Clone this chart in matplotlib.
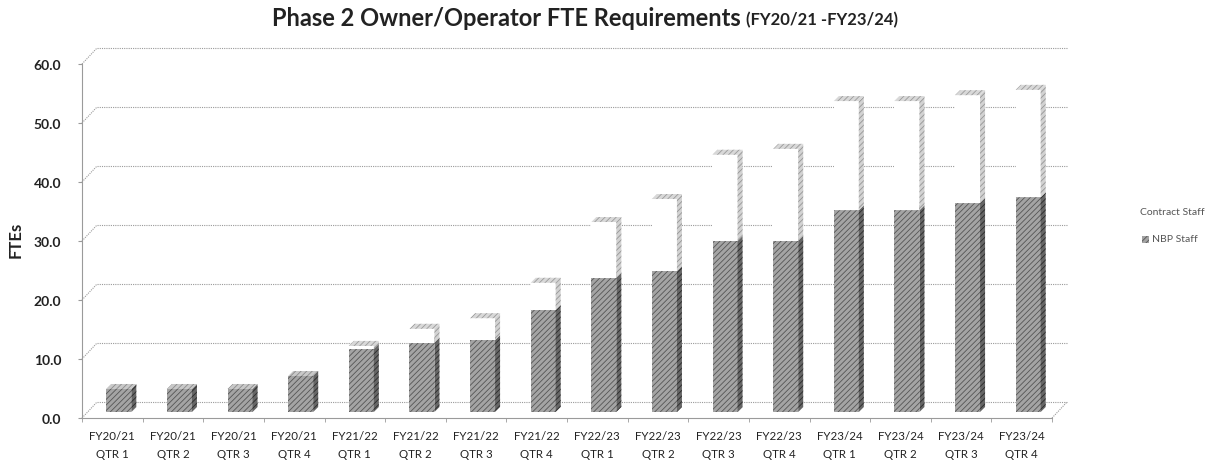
import numpy as np
import matplotlib.pyplot as plt
from matplotlib.patches import Polygon, Rectangle

plt.rcParams['font.family'] = ['Lato', 'DejaVu Sans']
plt.rcParams['hatch.linewidth'] = 0.6

quarters = ["FY20/21\nQTR 1", "FY20/21\nQTR 2", "FY20/21\nQTR 3", "FY20/21\nQTR 4",
            "FY21/22\nQTR 1", "FY21/22\nQTR 2", "FY21/22\nQTR 3", "FY21/22\nQTR 4",
            "FY22/23\nQTR 1", "FY22/23\nQTR 2", "FY22/23\nQTR 3", "FY22/23\nQTR 4",
            "FY23/24\nQTR 1", "FY23/24\nQTR 2", "FY23/24\nQTR 3", "FY23/24\nQTR 4"]
nbp_staff = [3.9, 3.9, 3.9, 6.1, 10.7, 11.7, 12.2, 17.3,
             22.7, 23.9, 29.0, 29.0, 34.2, 34.2, 35.4, 36.4]
contract_staff = [0.0, 0.0, 0.0, 0.0, 0.5, 2.4, 3.7, 4.6,
                  9.5, 12.2, 14.6, 15.6, 18.5, 18.5, 18.3, 18.2]
y_ticks = [0, 10, 20, 30, 40, 50, 60]

W, H = 1231, 464
fig = plt.figure(figsize=(W / 100, H / 100), dpi=100)

# front plane of the fake 3d box, in pixels
left, right, top, bottom = 82, 1052, 65, 419
ax = fig.add_axes([left / W, 1 - bottom / H, (right - left) / W, (bottom - top) / H])
n = len(quarters)
ax.set_xlim(-0.5, n - 0.5)
ax.set_ylim(0, 60)
px_x = (right - left) / n
px_y = (bottom - top) / 60.0


def px(dx, dy):
    return dx / px_x, dy / px_y


wall_dx, wall_dy = px(15, 16)
bar_sx, bar_sy = px(6.5, 6)
bar_dx, bar_dy = px(5, 5)
bar_w = 25 / px_x

grid_col = "#9a9a9a"
dots = (0, (1, 1))

# back wall gridlines + left wall diagonals
for v in y_ticks:
    ax.plot([-0.5 + wall_dx, n - 0.5 + wall_dx], [v + wall_dy, v + wall_dy], ls=dots,
            color=grid_col, lw=0.8, clip_on=False, zorder=1)
    ax.plot([-0.5, -0.5 + wall_dx], [v, v + wall_dy], ls=dots,
            color=grid_col, lw=0.8, clip_on=False, zorder=1)
ax.plot([n - 0.5, n - 0.5 + wall_dx], [0, wall_dy], ls=dots,
        color=grid_col, lw=0.8, clip_on=False, zorder=1)


def box(x, y0, y1, front, side, topc, hatch_front):
    x0 = x - bar_w / 2 + bar_sx
    x1 = x + bar_w / 2 + bar_sx
    b0 = y0 + bar_sy
    b1 = y1 + bar_sy
    ax.add_patch(Rectangle((x0, b0), x1 - x0, b1 - b0, facecolor=front[0], edgecolor=front[1],
                           lw=0, hatch=hatch_front, zorder=3))
    ax.add_patch(Polygon([(x1, b0), (x1 + bar_dx, b0 + bar_dy), (x1 + bar_dx, b1 + bar_dy), (x1, b1)],
                         closed=True, facecolor=side[0], edgecolor=side[1], lw=0,
                         hatch="//////", zorder=3))
    ax.add_patch(Polygon([(x0, b1), (x0 + bar_dx, b1 + bar_dy), (x1 + bar_dx, b1 + bar_dy), (x1, b1)],
                         closed=True, facecolor=topc[0], edgecolor=topc[1], lw=0,
                         hatch="//////", zorder=3))


for i in range(n):
    nb = nbp_staff[i]
    ct = contract_staff[i]
    box(i, 0, nb, ("#a4a4a4", "#555555"), ("#666666", "#2a2a2a"), ("#c8c8c8", "#8a8a8a"), "//////")
    if ct > 0:
        box(i, nb, nb + ct, ("white", "white"), ("#d2d2d2", "#959595"), ("#d8d8d8", "#9a9a9a"), None)

# axes styling
for s in ["top", "right"]:
    ax.spines[s].set_visible(False)
for s in ["left", "bottom"]:
    ax.spines[s].set_linestyle(dots)
    ax.spines[s].set_color(grid_col)
    ax.spines[s].set_linewidth(0.8)
ax.set_yticks(y_ticks)
ax.set_yticklabels([f"{v:.1f}" for v in y_ticks], fontsize=10, fontweight="bold", color="#222222")
ax.tick_params(axis="y", length=3, color=grid_col, pad=12)
ax.set_xticks(np.arange(n))
ax.set_xticklabels(quarters, fontsize=8.3, color="#222222", linespacing=1.7)
ax.set_xticks(np.arange(n + 1) - 0.5, minor=True)
ax.tick_params(axis="x", which="major", length=0, pad=9)
ax.tick_params(axis="x", which="minor", length=3, color=grid_col)
ax.set_facecolor("none")

fig.text(16 / W, 1 - 240 / H, "FTEs", rotation=90, ha="center", va="center",
         fontsize=12, fontweight="bold", color="#222222")

# title in two sizes
t1 = fig.text(272 / W, 1 - 19 / H, "Phase 2 Owner/Operator FTE Requirements", ha="left", va="center",
              fontsize=17, fontweight="bold", color="#222222")
fig.canvas.draw()
bb = t1.get_window_extent()
fig.text((bb.x1 + 5) / W, 1 - 20 / H, "(FY20/21 -FY23/24)", ha="left", va="center",
         fontsize=12, fontweight="bold", color="#222222")

# legend
fig.text(1140 / W, 1 - 213 / H, "Contract Staff", ha="left", va="center",
         fontsize=7.5, color="#555555")
fig.patches.append(Rectangle((1142 / W, 1 - 243.5 / H), 7 / W, 7 / H, transform=fig.transFigure,
                             facecolor="#a4a4a4", edgecolor="#555555", lw=0, hatch="//////"))
fig.text(1152 / W, 1 - 240 / H, "NBP Staff", ha="left", va="center",
         fontsize=7.5, color="#555555")

fig.savefig("out.png", dpi=100)
